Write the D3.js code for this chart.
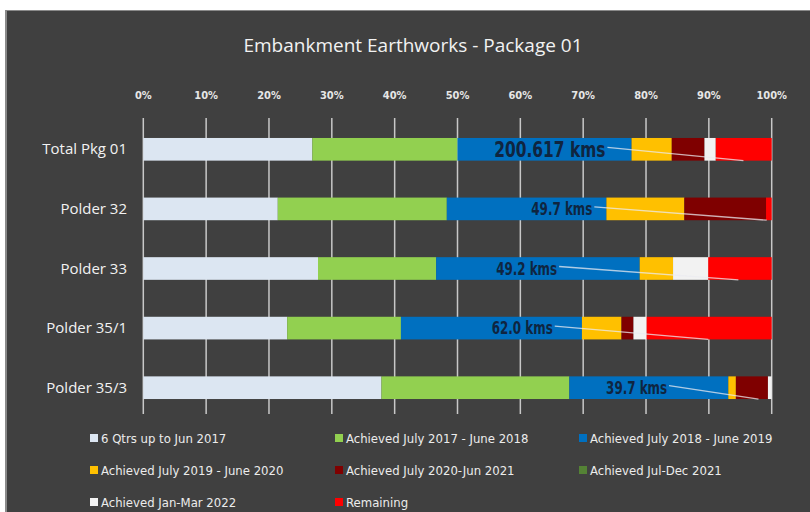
<!DOCTYPE html>
<html>
<head>
<meta charset="utf-8">
<script src="https://cdn.jsdelivr.net/npm/d3@7"></script>
<style>
  html, body { margin: 0; padding: 0; background: #fff; }
  svg { display: block; }
  text { font-family: "Open Sans", sans-serif; }
  .narrow { font-family: "DejaVu Sans Condensed", "DejaVu Sans", sans-serif; font-stretch: condensed; }
</style>
</head>
<body>
<div id="chart"></div>
<script>
// categories, top to bottom
var categories = ['Total Pkg 01', 'Polder 32', 'Polder 33', 'Polder 35/1', 'Polder 35/3'];

// series (percent of each row)
var seriesNames = [
  '6 Qtrs up to Jun 2017',
  'Achieved July 2017 - June 2018',
  'Achieved July 2018 - June 2019',
  'Achieved July 2019 - June 2020',
  'Achieved July 2020-Jun 2021',
  'Achieved Jul-Dec 2021',
  'Achieved Jan-Mar 2022',
  'Remaining'
];
var seriesColors = ['#dce6f2', '#92d050', '#0070c0', '#ffc000', '#7f0000', '#548235', '#f2f2f2', '#ff0000'];

var qtrs6      = [26.9, 21.4, 27.8, 22.9, 37.9];
var ach1718    = [23.1, 26.9, 18.8, 18.1, 29.9];
var ach1819    = [27.7, 25.4, 32.4, 28.8, 25.3];
var ach1920    = [6.4, 12.4, 5.3, 6.3, 1.2];
var ach2021    = [5.2, 13.0, 0, 1.9, 5.1];
var achJulDec  = [0, 0, 0, 0, 0];
var achJanMar  = [1.8, 0, 5.6, 2.1, 0.6];
var remaining  = [8.9, 0.9, 10.1, 19.9, 0];

// data labels (total length) with position in % and leader line end in %
var kmLabels   = ['200.617 kms', '49.7 kms', '49.2 kms', '62.0 kms', '39.7 kms'];
var labelPos   = [64.7, 66.6, 61.0, 60.3, 78.5];
var leaderEnd  = [95.5, 99.2, 94.7, 89.9, 97.9];

var xTicks = [0, 10, 20, 30, 40, 50, 60, 70, 80, 90, 100];

var W = 810, H = 512;
var svg = d3.select('#chart').append('svg').attr('width', W).attr('height', H);

// chart panel
svg.append('rect').attr('x', 5).attr('y', 10).attr('width', W - 5).attr('height', H - 10).attr('fill', '#8a8a8a');
svg.append('rect').attr('x', 7).attr('y', 11).attr('width', W - 7).attr('height', H - 11).attr('fill', '#404040');

svg.append('text')
  .attr('x', 413).attr('y', 52)
  .attr('text-anchor', 'middle')
  .attr('fill', '#f2f2f2')
  .style('font-size', '19px')
  .text('Embankment Earthworks - Package 01');

var x = d3.scaleLinear().domain([0, 100]).range([143.3, 771.7]);
var y = d3.scaleBand().domain(categories).range([119.5, 417.5]).paddingInner(0.62).paddingOuter(0.31);

// gridlines
svg.append('g').selectAll('line').data(xTicks).join('line')
  .attr('x1', function (d) { return x(d); }).attr('x2', function (d) { return x(d); })
  .attr('y1', 118).attr('y2', 414)
  .attr('stroke', '#c8c8c8').attr('stroke-width', 1.5);

// top axis labels
svg.append('g').selectAll('text').data(xTicks).join('text')
  .attr('class', 'narrow')
  .attr('x', function (d) { return x(d); }).attr('y', 99)
  .attr('text-anchor', 'middle')
  .attr('fill', '#e6e6e6')
  .style('font-size', '11px')
  .style('font-weight', 'bold')
  .text(function (d) { return d + '%'; });

// category labels
svg.append('g').selectAll('text').data(categories).join('text')
  .attr('x', 127).attr('y', function (d) { return y(d) + y.bandwidth() / 2 + 5; })
  .attr('text-anchor', 'end')
  .attr('fill', '#f2f2f2')
  .style('font-size', '15px')
  .text(function (d) { return d; });

// stacked bars
var seriesValues = [qtrs6, ach1718, ach1819, ach1920, ach2021, achJulDec, achJanMar, remaining];
var rows = categories.map(function (c, i) {
  var r = { cat: c };
  seriesNames.forEach(function (s, k) { r[s] = seriesValues[k][i]; });
  return r;
});
var stack = d3.stack().keys(seriesNames)(rows);

svg.append('g').selectAll('g').data(stack).join('g')
  .attr('fill', function (d, i) { return seriesColors[i]; })
  .selectAll('rect').data(function (d) { return d; }).join('rect')
  .attr('x', function (d) { return x(d[0]); })
  .attr('width', function (d) { return Math.max(0, x(d[1]) - x(d[0])); })
  .attr('y', function (d) { return y(d.data.cat); })
  .attr('height', y.bandwidth());

// data labels with leader lines (squeezed like the narrow font in the original)
var squeeze = 0.78;
var lab = svg.append('g');
categories.forEach(function (c, i) {
  var big = i === 0;
  var cy = y(c) + y.bandwidth() / 2;
  var cx = x(labelPos[i]);
  var t = lab.append('text')
    .attr('class', 'narrow')
    .attr('transform', 'translate(' + cx + ',' + (cy + (big ? 8 : 6)) + ') scale(' + squeeze + ',1)')
    .attr('text-anchor', 'middle')
    .attr('fill', '#0f2540')
    .style('font-size', big ? '22px' : '17px')
    .style('font-weight', 'bold')
    .text(kmLabels[i]);
  var halfW = t.node().getBBox().width * squeeze / 2;
  lab.insert('line', 'text')
    .attr('x1', cx + halfW + 2).attr('y1', cy - 2)
    .attr('x2', x(leaderEnd[i])).attr('y2', y(c) + y.bandwidth())
    .attr('stroke', 'rgba(235,235,240,0.75)').attr('stroke-width', 1.3);
});

// legend
var legCols = [90, 335, 579];
var legRows = [438, 470, 502];
var leg = svg.append('g').selectAll('g').data(seriesNames).join('g')
  .attr('transform', function (d, i) { return 'translate(' + legCols[i % 3] + ',' + legRows[Math.floor(i / 3)] + ')'; });
leg.append('rect')
  .attr('x', 0).attr('y', -4).attr('width', 8).attr('height', 8)
  .attr('fill', function (d, i) { return seriesColors[i]; });
leg.append('text')
  .attr('class', 'narrow')
  .attr('x', 11).attr('y', 4.5)
  .attr('fill', '#ececec')
  .style('font-size', '13px')
  .text(function (d) { return d; });
</script>
</body>
</html>
